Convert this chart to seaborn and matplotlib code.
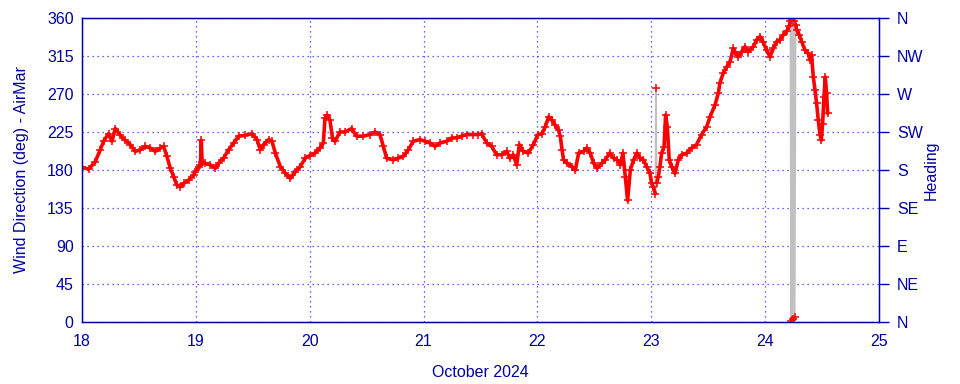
import matplotlib
matplotlib.use('Agg')
import matplotlib.pyplot as plt
import numpy as np
import pandas as pd
import seaborn as sns

# time in days of October 2024, wind direction in degrees
day = [
    18.000, 18.059, 18.117, 18.161, 18.190, 18.234, 18.263, 18.293, 18.337, 18.380,
    18.424, 18.468, 18.512, 18.556, 18.600, 18.644, 18.688, 18.717, 18.746, 18.776,
    18.805, 18.834, 18.864, 18.893, 18.937, 18.980, 18.995, 19.025, 19.040, 19.048,
    19.055, 19.083, 19.127, 19.171, 19.200, 19.244, 19.288, 19.332, 19.376, 19.434,
    19.493, 19.537, 19.566, 19.595, 19.639, 19.669, 19.698, 19.742, 19.786, 19.830,
    19.874, 19.917, 19.961, 20.000,
    20.046, 20.090, 20.120, 20.134, 20.155, 20.178, 20.200, 20.222, 20.266, 20.310,
    20.368, 20.412, 20.471, 20.529, 20.573, 20.617, 20.646, 20.676, 20.734, 20.778,
    20.822, 20.866, 20.910, 20.968, 21.012, 21.056, 21.100, 21.144, 21.203, 21.247,
    21.291, 21.334, 21.378, 21.437, 21.481, 21.510, 21.554, 21.598, 21.642, 21.686,
    21.730, 21.759, 21.788, 21.818, 21.841, 21.876, 21.920, 21.964,
    22.005, 22.040, 22.069, 22.098, 22.128, 22.157, 22.186, 22.201, 22.216, 22.230,
    22.260, 22.303, 22.333, 22.362, 22.406, 22.435, 22.464, 22.494, 22.523, 22.567,
    22.596, 22.634, 22.669, 22.699, 22.728, 22.751, 22.772, 22.792, 22.816, 22.845,
    22.874,
    22.901, 22.930, 22.960, 22.989, 23.003, 23.018, 23.036, 23.041, 23.048, 23.062,
    23.076, 23.091, 23.112, 23.126, 23.141, 23.158, 23.179, 23.208, 23.238, 23.267,
    23.311, 23.355, 23.398, 23.442, 23.486, 23.516, 23.560, 23.589, 23.603, 23.633,
    23.662, 23.691, 23.721, 23.735, 23.764, 23.794, 23.823, 23.852, 23.896, 23.925,
    23.955, 23.984,
    24.013, 24.043, 24.072, 24.101, 24.130, 24.160, 24.189, 24.212, 24.222, 24.228,
    24.236, 24.244, 24.252, 24.260, 24.268, 24.277, 24.300, 24.321, 24.350, 24.379,
    24.394, 24.408, 24.423, 24.438, 24.452, 24.467, 24.482, 24.493, 24.505, 24.517,
    24.528, 24.540, 24.549,
]
wind_deg = [
    183, 181, 190, 204, 214, 223, 214, 229, 221, 215,
    210, 202, 204, 208, 206, 202, 206, 208, 196, 182,
    172, 162, 160, 164, 168, 174, 178, 184, 186, 215,
    190, 188, 186, 182, 188, 194, 204, 212, 220, 221,
    223, 216, 204, 210, 216, 214, 200, 184, 176, 170,
    178, 184, 194, 197,
    200, 206, 212, 241, 245, 239, 218, 214, 225, 225,
    229, 220, 220, 222, 225, 222, 208, 194, 192, 194,
    196, 204, 214, 216, 214, 212, 208, 212, 214, 218,
    218, 220, 222, 222, 222, 223, 212, 208, 198, 198,
    202, 194, 198, 186, 210, 202, 200, 210,
    222, 223, 231, 243, 239, 233, 227, 220, 204, 192,
    188, 184, 180, 200, 202, 206, 200, 188, 182, 188,
    192, 200, 194, 192, 186, 200, 172, 144, 180, 192,
    200,
    194, 192, 184, 176, 164, 160, 152, 277, 165, 172,
    184, 200, 207, 245, 231, 192, 184, 176, 192, 198,
    200, 206, 210, 222, 231, 243, 257, 271, 283, 295,
    302, 308, 324, 320, 314, 320, 326, 320, 326, 334,
    338, 331,
    322, 314, 324, 332, 334, 340, 344, 350, 356, 1,
    358, 3, 357, 6, 352, 346, 340, 332, 322, 318,
    310, 316, 290, 275, 259, 239, 222, 215, 235, 267,
    290, 271, 247,
]
deg_ticks = [0, 45, 90, 135, 180, 225, 270, 315, 360]
heading_labels = ['N', 'NE', 'E', 'SE', 'S', 'SW', 'W', 'NW', 'N']
day_ticks = [18, 19, 20, 21, 22, 23, 24, 25]

df = pd.DataFrame({'day': day, 'deg': wind_deg})
# break the red trace at big jumps (north wrap and the single spike)
df['seg'] = (df['deg'].diff().abs() > 60).cumsum()

sns.set_style('white')
plt.rcParams['font.family'] = ['Liberation Sans', 'DejaVu Sans']

navy = '#0000a0'
fig = plt.figure(figsize=(9.6, 3.84), dpi=100)
ax = fig.add_axes([0.0854, 0.1615, 0.8302, 0.7917])

sns.lineplot(data=df, x='day', y='deg', estimator=None, sort=False,
             color='#c0c0c0', lw=1.2, ax=ax)
sns.lineplot(data=df, x='day', y='deg', units='seg', estimator=None, sort=False,
             color='red', lw=2.6, ax=ax)
sns.scatterplot(data=df, x='day', y='deg', marker='+', s=36, color='red',
                linewidth=1.1, ax=ax, zorder=3)

ax.set_xlim(18, 25)
ax.set_ylim(0, 360)
ax.set_xticks(day_ticks)
ax.set_yticks(deg_ticks)
ax.grid(True, color='#3333ff', linestyle=(0, (1, 3)), linewidth=0.9)
ax.tick_params(axis='both', colors=navy, labelsize=11.5, length=0)
ax.tick_params(axis='x', pad=9)
ax.tick_params(axis='y', pad=6)
ax.set_xlabel('October 2024', color=navy, fontsize=11.5, labelpad=11)
ax.set_ylabel('Wind Direction (deg) - AirMar', color=navy, fontsize=11.5, labelpad=13)
for s in ax.spines.values():
    s.set_color(navy)
    s.set_linewidth(1)

ax2 = ax.twinx()
ax2.set_ylim(0, 360)
ax2.set_yticks(deg_ticks)
ax2.set_yticklabels(heading_labels)
ax2.tick_params(axis='y', colors=navy, labelsize=11.5, length=7, width=1,
                direction='out', pad=6)
ax2.set_ylabel('Heading', color=navy, fontsize=11.5, labelpad=0)
for s in ax2.spines.values():
    s.set_color(navy)

fig.savefig('out.png', dpi=100)
